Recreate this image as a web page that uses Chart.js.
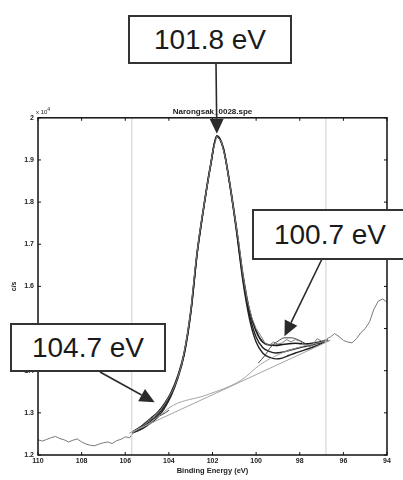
<!DOCTYPE html>
<html>
<head>
<meta charset="utf-8">
<script src="https://cdn.jsdelivr.net/npm/chart.js@4.4.0/dist/chart.umd.min.js"></script>
<style>
body { margin: 0; background: #fff; }
#wrap { position: relative; width: 403px; height: 480px; overflow: hidden; }
.tag { position: absolute; box-sizing: border-box; border: 2px solid #333; background: #fff;
  font: 28px "Liberation Sans", Arial, sans-serif; color: #1a1a1a;
  display: flex; align-items: center; justify-content: center; }
#mult { position: absolute; left: 36px; top: 106px; font: 6px "Liberation Sans", Arial, sans-serif; color: #222; }
</style>
</head>
<body>
<div id="wrap">
  <canvas id="xps" width="403" height="480"></canvas>
  <div id="mult">x 10<sup>4</sup></div>
  <div class="tag" id="tag0" style="left:128px; top:15px; width:164px; height:49px;"></div>
  <div class="tag" id="tag1" style="left:252px; top:209px; width:156px; height:51px;"></div>
  <div class="tag" id="tag2" style="left:10px; top:323px; width:156px; height:49px;"></div>
</div>
<script>
// raw spectrum (counts in 10^4 c/s)
var rawEnergy = [110.0, 109.8, 109.6, 109.4, 109.2, 109.0, 108.8, 108.6, 108.4, 108.2,
  108.0, 107.8, 107.6, 107.4, 107.2, 107.0, 106.8, 106.6, 106.4, 106.2,
  106.0, 105.8, 105.6, 105.4, 105.2, 105.0, 104.8, 104.6, 104.4, 104.2,
  104.0, 103.8, 103.6, 103.4, 103.2, 103.0, 102.8, 102.6, 102.4, 102.2,
  102.0, 101.8, 101.6, 101.4, 101.2, 101.0, 100.8, 100.6, 100.4, 100.2,
  100.0, 99.8, 99.6, 99.4, 99.2, 99.0, 98.8, 98.6, 98.4, 98.2,
  98.0, 97.8, 97.6, 97.4, 97.2, 97.0, 96.8, 96.6, 96.4, 96.2,
  96.0, 95.8, 95.6, 95.4, 95.2, 95.0, 94.8, 94.6, 94.4, 94.2, 94.0];
var rawCounts = [1.236, 1.233, 1.237, 1.241, 1.244, 1.239, 1.236, 1.231, 1.235, 1.238,
  1.231, 1.226, 1.223, 1.222, 1.226, 1.229, 1.231, 1.227, 1.234, 1.237,
  1.243, 1.241, 1.255, 1.262, 1.269, 1.279, 1.287, 1.296, 1.306, 1.320,
  1.337, 1.356, 1.382, 1.418, 1.470, 1.540, 1.642, 1.724, 1.790, 1.852,
  1.918, 1.956, 1.944, 1.902, 1.842, 1.772, 1.706, 1.626, 1.566, 1.526,
  1.500, 1.484, 1.466, 1.460, 1.468, 1.463, 1.466, 1.474, 1.468, 1.474,
  1.470, 1.462, 1.457, 1.462, 1.476, 1.470, 1.474, 1.480, 1.488, 1.481,
  1.472, 1.468, 1.466, 1.476, 1.490, 1.500, 1.516, 1.546, 1.565, 1.570, 1.563];

// fitted curves
var fitEnergy = [105.7, 105.4, 105.1, 104.8, 104.5, 104.2, 103.9, 103.6, 103.3, 103.0,
  102.7, 102.4, 102.1, 101.8, 101.5, 101.2, 100.9, 100.6, 100.3, 100.0,
  99.7, 99.4, 99.1, 98.8, 98.5, 98.2, 97.9, 97.6, 97.3, 97.0, 96.7];
var envelopeCounts = [1.254, 1.263, 1.275, 1.288, 1.302, 1.322, 1.348, 1.386, 1.442, 1.540,
  1.683, 1.790, 1.885, 1.957, 1.928, 1.842, 1.738, 1.626, 1.542, 1.494,
  1.468, 1.461, 1.460, 1.462, 1.464, 1.465, 1.464, 1.464, 1.466, 1.469, 1.472];
var sumCounts = [1.253, 1.260, 1.270, 1.282, 1.296, 1.316, 1.344, 1.383, 1.440, 1.537,
  1.680, 1.788, 1.884, 1.956, 1.927, 1.840, 1.735, 1.618, 1.532, 1.480,
  1.455, 1.446, 1.442, 1.444, 1.448, 1.452, 1.456, 1.459, 1.463, 1.467, 1.472];
var mainCounts = [1.252, 1.258, 1.266, 1.277, 1.290, 1.311, 1.340, 1.380, 1.437, 1.534,
  1.678, 1.786, 1.882, 1.955, 1.925, 1.838, 1.730, 1.610, 1.522, 1.468,
  1.442, 1.432, 1.428, 1.430, 1.436, 1.442, 1.447, 1.452, 1.458, 1.465, 1.472];
var comp104Energy = [105.5, 105.2, 104.9, 104.6, 104.3, 104.0];
var comp104Counts = [1.258, 1.268, 1.282, 1.290, 1.296, 1.306];
var comp100Energy = [99.9, 99.6, 99.3, 99.0, 98.7, 98.4, 98.1, 97.8, 97.5];
var comp100Counts = [1.418, 1.436, 1.458, 1.470, 1.478, 1.478, 1.474, 1.466, 1.458];

// backgrounds
var shirleyEnergy = [105.8, 104.9, 103.8, 102.3, 100.7, 99.8, 98.9, 98.0, 96.6];
var shirleyCounts = [1.252, 1.275, 1.318, 1.342, 1.377, 1.415, 1.440, 1.456, 1.472];
var linearEnergy = [105.8, 96.6];
var linearCounts = [1.252, 1.472];

// region limits
var regionLimits = [105.7, 96.8];

// peak labels
var peakLabels = ['101.8 eV', '100.7 eV', '104.7 eV'];
var peakEnergy = [101.8, 98.7, 104.65];
var peakCounts = [1.962, 1.482, 1.325];
var arrowFrom = [[216, 64], [322, 259], [100, 372]];

peakLabels.forEach(function(t, i) {
  document.getElementById('tag' + i).textContent = t;
});

function pts(xs, ys) {
  var out = [];
  for (var i = 0; i < xs.length; i++) out.push({x: xs[i], y: ys[i]});
  return out;
}

var datasets = [];
regionLimits.forEach(function(e) {
  datasets.push({ data: pts([e, e], [1.2, 2.0]), borderColor: '#cfcfcf', borderWidth: 1, pointRadius: 0 });
});
datasets.push({ data: pts(linearEnergy, linearCounts), borderColor: '#9a9a9a', borderWidth: 0.9, pointRadius: 0 });
datasets.push({ data: pts(shirleyEnergy, shirleyCounts), borderColor: '#9a9a9a', borderWidth: 0.9, pointRadius: 0, cubicInterpolationMode: 'monotone' });
datasets.push({ data: pts(rawEnergy, rawCounts), borderColor: '#7a7a7a', borderWidth: 1, pointRadius: 0 });
datasets.push({ data: pts(comp104Energy, comp104Counts), borderColor: '#333', borderWidth: 1, pointRadius: 0, cubicInterpolationMode: 'monotone' });
datasets.push({ data: pts(comp100Energy, comp100Counts), borderColor: '#444', borderWidth: 1, pointRadius: 0, cubicInterpolationMode: 'monotone' });
datasets.push({ data: pts(fitEnergy, mainCounts), borderColor: '#222', borderWidth: 1.4, pointRadius: 0, cubicInterpolationMode: 'monotone' });
datasets.push({ data: pts(fitEnergy, sumCounts), borderColor: '#222', borderWidth: 1.4, pointRadius: 0, cubicInterpolationMode: 'monotone' });
datasets.push({ data: pts(fitEnergy, envelopeCounts), borderColor: '#1a1a1a', borderWidth: 1.6, pointRadius: 0, cubicInterpolationMode: 'monotone' });

var frame = {
  id: 'frame',
  afterDatasetsDraw: function(chart) {
    var ctx = chart.ctx, a = chart.chartArea;
    var xs = chart.scales.x, ys = chart.scales.y;
    ctx.save();
    ctx.strokeStyle = '#111';
    ctx.lineWidth = 1.5;
    ctx.strokeRect(a.left, a.top, a.right - a.left, a.bottom - a.top);
    ctx.lineWidth = 1;
    ctx.beginPath();
    xs.ticks.forEach(function(t) {
      var px = xs.getPixelForValue(t.value);
      ctx.moveTo(px, a.bottom); ctx.lineTo(px, a.bottom - 3);
      ctx.moveTo(px, a.top); ctx.lineTo(px, a.top + 3);
    });
    ys.ticks.forEach(function(t) {
      var py = ys.getPixelForValue(t.value);
      ctx.moveTo(a.left, py); ctx.lineTo(a.left + 3, py);
      ctx.moveTo(a.right, py); ctx.lineTo(a.right - 3, py);
    });
    ctx.stroke();

    // arrows to the labelled peaks
    ctx.strokeStyle = '#2a2a2a';
    ctx.fillStyle = '#2a2a2a';
    ctx.lineWidth = 1.6;
    peakEnergy.forEach(function(e, i) {
      var x0 = arrowFrom[i][0], y0 = arrowFrom[i][1];
      var x1 = xs.getPixelForValue(e), y1 = ys.getPixelForValue(peakCounts[i]);
      var ang = Math.atan2(y1 - y0, x1 - x0);
      var len = 15, half = 7;
      var bx = x1 - len * Math.cos(ang), by = y1 - len * Math.sin(ang);
      ctx.beginPath();
      ctx.moveTo(x0, y0); ctx.lineTo(bx, by);
      ctx.stroke();
      ctx.beginPath();
      ctx.moveTo(x1, y1);
      ctx.lineTo(bx + half * Math.sin(ang), by - half * Math.cos(ang));
      ctx.lineTo(bx - half * Math.sin(ang), by + half * Math.cos(ang));
      ctx.closePath();
      ctx.fill();
    });
    ctx.restore();
  }
};

new Chart(document.getElementById('xps'), {
  type: 'line',
  data: { datasets: datasets },
  options: {
    responsive: false,
    animation: false,
    layout: { padding: { top: 107, right: 16, bottom: 0, left: 0 } },
    plugins: {
      legend: { display: false },
      tooltip: { enabled: false },
      title: {
        display: true,
        text: 'Narongsak_0028.spe',
        fullSize: false,
        color: '#222',
        font: { family: 'Liberation Sans, Arial, sans-serif', size: 8, lineHeight: 1.1 },
        padding: { top: 0, bottom: 2 }
      }
    },
    scales: {
      x: {
        type: 'linear',
        reverse: true,
        min: 94,
        max: 110,
        afterFit: function(s) { s.height = 25; },
        ticks: { stepSize: 2, padding: 2, color: '#222', font: { family: 'Liberation Sans, Arial, sans-serif', size: 7, weight: 'bold' } },
        grid: { display: false, drawTicks: false },
        border: { display: false },
        title: { display: true, text: 'Binding Energy (eV)', color: '#222',
          font: { family: 'Liberation Sans, Arial, sans-serif', size: 7.5, weight: 'bold' },
          padding: { top: 0, bottom: 5 } }
      },
      y: {
        min: 1.2,
        max: 2.0,
        afterFit: function(s) { s.width = 38; },
        ticks: {
          stepSize: 0.1, padding: 4, color: '#222',
          font: { family: 'Liberation Sans, Arial, sans-serif', size: 7, weight: 'bold' },
          callback: function(v) { return String(Number(v.toFixed(1))); }
        },
        grid: { display: false, drawTicks: false },
        border: { display: false },
        title: { display: true, text: 'c/s', color: '#222',
          font: { family: 'Liberation Sans, Arial, sans-serif', size: 7, weight: 'bold' },
          padding: { top: 10, bottom: 0 } }
      }
    }
  },
  plugins: [frame]
});
</script>
</body>
</html>
